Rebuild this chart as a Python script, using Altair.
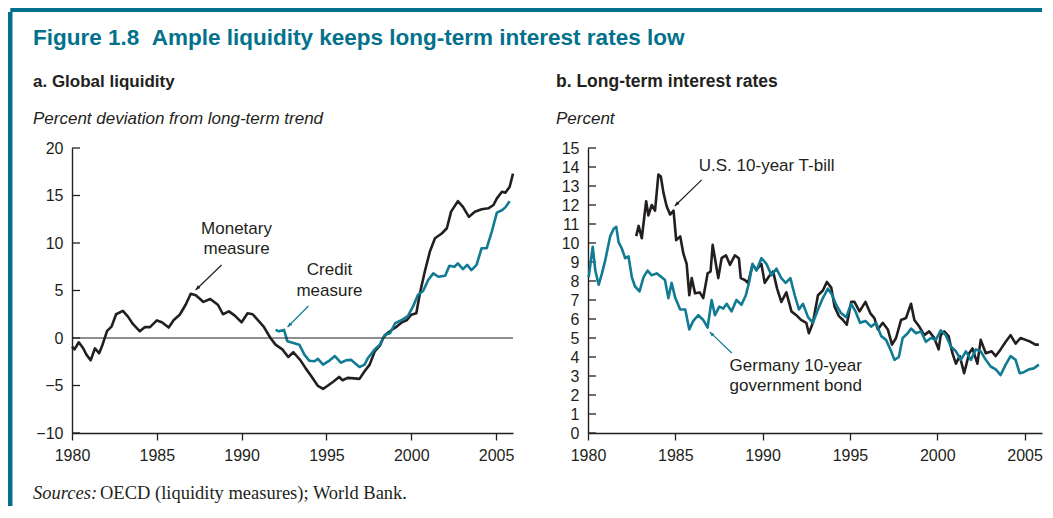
import altair as alt
import pandas as pd

# ---------------- data: panel a (global liquidity) ----------------
mon_year = [1980.0, 1980.15, 1980.4, 1980.65, 1980.85, 1981.1, 1981.35, 1981.6, 1981.8, 1982.07,
            1982.33, 1982.6, 1983.0, 1983.3, 1983.6, 1984.0, 1984.3, 1984.6, 1985.0, 1985.3,
            1985.7, 1986.0, 1986.35, 1986.7, 1987.0, 1987.3, 1987.75, 1988.15, 1988.6, 1988.9,
            1989.25, 1989.6, 1990.0, 1990.35, 1990.65, 1991.0, 1991.3, 1991.7, 1992.0, 1992.4,
            1992.75, 1993.05, 1993.45, 1993.8, 1994.1, 1994.5, 1994.8, 1995.05, 1995.4, 1995.75,
            1995.95, 1996.25, 1996.65, 1996.95, 1997.25, 1997.55, 1997.85, 1998.15, 1998.35, 1998.55,
            1998.85, 1999.15, 1999.45, 1999.75, 2000.0, 2000.3, 2000.5, 2000.8, 2001.1, 2001.4,
            2001.8, 2002.1, 2002.35, 2002.75, 2003.05, 2003.4, 2003.75, 2004.15, 2004.55, 2004.85,
            2005.05, 2005.35, 2005.55, 2005.8, 2006.0]
mon_val = [-0.9, -1.2, -0.45, -1.05, -1.75, -2.35, -1.1, -1.6, -0.7, 0.75,
           1.2, 2.5, 2.85, 2.25, 1.45, 0.7, 1.15, 1.15, 1.85, 1.65,
           1.1, 1.9, 2.45, 3.5, 4.65, 4.5, 3.8, 4.1, 3.5, 2.5,
           2.8, 2.35, 1.65, 2.6, 2.5, 1.8, 1.2, 0.0, -0.7, -1.2,
           -2.0, -1.5, -2.3, -3.25, -4.0, -5.05, -5.35, -5.05, -4.6, -4.1,
           -4.45, -4.2, -4.25, -4.3, -3.5, -2.8, -1.4, -0.8, 0.0, 0.45,
           0.85, 1.2, 1.65, 1.9, 2.45, 2.6, 4.6, 7.0, 9.1, 10.5,
           11.0, 11.55, 13.3, 14.4, 13.8, 12.75, 13.3, 13.55, 13.65, 14.0,
           14.7, 15.4, 15.3, 15.9, 17.3]

cred_year = [1992.0, 1992.2, 1992.5, 1992.7, 1993.0, 1993.4, 1993.7, 1994.0, 1994.3, 1994.5,
             1994.8, 1995.2, 1995.5, 1995.85, 1996.15, 1996.45, 1996.65, 1996.95, 1997.25, 1997.45,
             1997.85, 1998.15, 1998.45, 1998.75, 1999.05, 1999.45, 1999.8, 2000.1, 2000.4, 2000.7,
             2001.0, 2001.3, 2001.6, 2002.0, 2002.25, 2002.55, 2002.75, 2003.05, 2003.3, 2003.55,
             2003.85, 2004.15, 2004.45, 2004.75, 2005.05, 2005.35, 2005.55, 2005.8]
cred_val = [0.85, 0.7, 0.85, -0.35, -0.5, -0.7, -1.75, -2.4, -2.45, -2.2,
            -2.8, -2.35, -1.9, -2.6, -2.35, -2.3, -2.6, -3.05, -2.8, -2.1,
            -1.2, -0.7, 0.35, 0.5, 1.55, 1.9, 2.3, 3.3, 4.55, 4.95,
            6.1, 6.8, 6.45, 6.55, 7.6, 7.5, 7.85, 7.25, 7.7, 7.15,
            7.7, 9.45, 9.45, 11.2, 13.2, 13.45, 13.75, 14.4]

# ---------------- data: panel b (long-term interest rates) ----------------
us_year = [1982.76, 1982.9, 1983.08, 1983.33, 1983.46, 1983.65, 1983.84, 1984.03, 1984.17, 1984.32,
           1984.5, 1984.7, 1984.9, 1985.05, 1985.28, 1985.46, 1985.65, 1985.8, 1985.94, 1986.13,
           1986.4, 1986.6, 1986.85, 1987.02, 1987.14, 1987.27, 1987.46, 1987.65, 1987.9, 1988.13,
           1988.41, 1988.64, 1988.75, 1988.98, 1989.17, 1989.42, 1989.65, 1989.93, 1990.12, 1990.37,
           1990.6, 1990.83, 1991.07, 1991.36, 1991.65, 1991.93, 1992.2, 1992.5, 1992.65, 1992.88,
           1993.17, 1993.45, 1993.68, 1993.93, 1994.12, 1994.37, 1994.6, 1994.82, 1995.07, 1995.26,
           1995.55, 1995.89, 1996.17, 1996.4, 1996.6, 1996.88, 1997.17, 1997.41, 1997.64, 1997.93,
           1998.21, 1998.5, 1998.69, 1998.97, 1999.26, 1999.54, 1999.83, 2000.08, 2000.2, 2000.4,
           2000.65, 2000.87, 2001.07, 2001.29, 2001.54, 2001.83, 2002.02, 2002.3, 2002.49, 2002.78,
           2003.12, 2003.35, 2003.63, 2003.92, 2004.2, 2004.49, 2004.77, 2005.06, 2005.34, 2005.63,
           2005.82]
us_val = [10.36, 10.9, 10.25, 12.2, 11.45, 12.0, 11.7, 13.6, 13.5, 12.65,
          11.95, 11.5, 11.7, 10.15, 10.35, 9.45, 8.9, 7.25, 8.15, 7.35,
          7.4, 7.1, 8.4, 8.5, 9.9, 9.2, 8.15, 9.2, 9.35, 8.85,
          9.35, 9.2, 8.15, 8.05, 7.9, 8.85, 8.6, 8.9, 7.9, 8.25,
          8.5, 7.6, 6.9, 7.4, 6.4, 6.2, 5.95, 5.8, 5.25, 5.8,
          7.25, 7.5, 7.95, 7.65, 6.65, 6.15, 5.95, 5.7, 6.9, 6.9,
          6.4, 6.9, 6.3, 6.05, 5.45, 5.8, 5.45, 4.65, 5.0, 5.95,
          6.05, 6.8, 5.95, 5.6, 5.15, 5.35, 5.0, 4.4, 5.15, 5.35,
          5.1, 4.2, 3.65, 4.05, 3.15, 4.2, 4.45, 3.65, 4.9, 4.2,
          4.3, 4.05, 4.4, 4.8, 5.15, 4.7, 5.0, 4.9, 4.8, 4.65,
          4.65]

de_year = [1980.04, 1980.27, 1980.42, 1980.61, 1980.8, 1980.99, 1981.27, 1981.47, 1981.62, 1981.75,
           1981.94, 1982.13, 1982.32, 1982.51, 1982.7, 1982.95, 1983.18, 1983.41, 1983.65, 1983.94,
           1984.22, 1984.41, 1984.6, 1984.79, 1985.0, 1985.28, 1985.57, 1985.8, 1986.03, 1986.32,
           1986.6, 1986.85, 1987.08, 1987.27, 1987.52, 1987.75, 1987.94, 1988.22, 1988.5, 1988.79,
           1989.04, 1989.23, 1989.42, 1989.65, 1989.93, 1990.22, 1990.51, 1990.79, 1991.07, 1991.32,
           1991.59, 1991.84, 1992.08, 1992.31, 1992.6, 1992.88, 1993.17, 1993.45, 1993.74, 1993.99,
           1994.21, 1994.5, 1994.79, 1995.07, 1995.32, 1995.58, 1995.89, 1996.21, 1996.5, 1996.79,
           1997.07, 1997.36, 1997.55, 1997.8, 1998.02, 1998.31, 1998.5, 1998.78, 1999.07, 1999.35,
           1999.64, 1999.92, 2000.2, 2000.49, 2000.78, 2001.07, 2001.35, 2001.64, 2001.93, 2002.21,
           2002.49, 2002.78, 2003.06, 2003.35, 2003.63, 2003.92, 2004.2, 2004.49, 2004.72, 2004.96,
           2005.25, 2005.53, 2005.82]
de_val = [8.2, 9.8, 8.55, 7.8, 8.4, 9.1, 10.35, 10.75, 10.85, 10.05,
          9.7, 9.2, 9.3, 8.2, 7.7, 7.45, 8.2, 8.55, 8.3, 8.4,
          8.2, 8.05, 7.1, 7.9, 7.1, 6.5, 6.5, 5.45, 5.9, 6.2,
          5.95, 5.55, 7.0, 6.2, 6.65, 6.55, 6.8, 6.4, 7.0, 6.75,
          7.25, 7.95, 8.9, 8.55, 9.2, 8.9, 8.3, 8.65, 8.15, 7.9,
          8.15, 7.25, 6.5, 6.8, 6.1, 5.8, 6.5, 7.1, 7.6, 7.25,
          6.75, 6.3, 6.1, 6.8, 6.4, 5.8, 5.9, 5.6, 5.8, 5.1,
          4.9, 4.3, 3.85, 4.0, 5.0, 5.25, 5.5, 5.25, 5.35, 4.8,
          5.0, 4.9, 5.4, 5.15, 4.55, 4.3, 3.85, 4.3, 3.85, 4.4,
          4.3, 3.85, 3.5, 3.35, 3.05, 3.6, 4.05, 3.85, 3.15, 3.2,
          3.35, 3.4, 3.6]

# ---------------- axes / ticks ----------------
x_ticks = [1980, 1985, 1990, 1995, 2000, 2005]
ya_ticks = [-10, -5, 0, 5, 10, 15, 20]
yb_ticks = list(range(0, 16))

# ---------------- annotations ----------------
a_lab_x = [1989.7, 1989.7, 1995.18, 1995.18]
a_lab_y = [11.47, 9.37, 7.16, 4.95]
a_lab_t = ["Monetary", "measure", "Credit", "measure"]
a_arr = {"x": [1988.82, 1993.94], "y": [7.68, 3.37], "x2": [1987.29, 1992.71], "y2": [5.05, 1.16],
         "c": ["#231f20", "#107b93"], "ang": [225, 225]}

b_lab_x = [1990.23]
b_lab_y = [14.05]
b_lab_t = ["U.S. 10-year T-bill"]
b_lab2_x = [1988.11, 1988.11]
b_lab2_y = [3.53, 2.47]
b_lab2_t = ["Germany 10-year", "government bond"]
b_arr = {"x": [1986.51, 1988.23], "y": [13.32, 4.21], "x2": [1984.97, 1986.97], "y2": [11.95, 5.32],
         "c": ["#231f20", "#107b93"], "ang": [225, 315]}

BLACK = "#231f20"
TEAL = "#107b93"
FRAME = "#03718c"
SANS = "Liberation Sans"
SERIF = "Liberation Serif"
ARROW = "M0,0 L-0.4,1 L0.4,1 Z"
NB = "\u00a0"

one = pd.DataFrame({"d": [0]})


def xenc(field="year"):
    return alt.X(f"{field}:Q", scale=alt.Scale(domain=[1980, 2006], nice=False, zero=False),
                 axis=alt.Axis(values=x_ticks, format="d", tickSize=7, labelPadding=7,
                               title=None, labelFlush=False))


def panel(series, ydomain, yticks, labels, arrows, extra_text, width):
    ysc = alt.Scale(domain=ydomain, nice=False, zero=False)
    yax = alt.Axis(values=yticks, ticks=False, labelPadding=9, title=None, format="d",
                   labelOverlap=False, labelFlush=False, labelBound=False)
    layers = []
    # inward y ticks
    tdf = pd.DataFrame({"v": yticks})
    layers.append(alt.Chart(tdf).mark_rule(color=BLACK, strokeWidth=1.3).encode(
        y=alt.Y("v:Q", scale=ysc, axis=yax),
        x=alt.value(0), x2=alt.value(8)))
    for df, col in series:
        layers.append(alt.Chart(df).mark_line(color=col, strokeWidth=2.6, strokeJoin="round").encode(
            x=xenc(), y=alt.Y("value:Q", scale=ysc, axis=yax)))
    for ldf, align in labels:
        layers.append(alt.Chart(ldf).mark_text(align=align, baseline="middle", font=SANS,
                                               fontSize=17, color=BLACK).encode(
            x=alt.X("x:Q"), y=alt.Y("y:Q", axis=yax), text="t:N"))
    adf = pd.DataFrame(arrows)
    layers.append(alt.Chart(adf).mark_rule(strokeWidth=1.2).encode(
        x="x:Q", y=alt.Y("y:Q", axis=yax), x2="x2:Q", y2="y2:Q", color=alt.Color("c:N", scale=None)))
    layers.append(alt.Chart(adf).mark_point(shape=ARROW, filled=True, size=90, opacity=1).encode(
        x="x2:Q", y=alt.Y("y2:Q", axis=yax), angle=alt.Angle("ang:Q", scale=None),
        color=alt.Color("c:N", scale=None)))
    layers.extend(extra_text)
    return alt.layer(*layers).properties(width=width, height=285)


def txt(text, x, y, size, weight="normal", style="normal", color=BLACK, font=SANS):
    return alt.Chart(one).mark_text(text=text, align="left", baseline="alphabetic", font=font,
                                    fontSize=size, fontWeight=weight, fontStyle=style,
                                    color=color).encode(x=alt.value(x), y=alt.value(y))


mon = pd.DataFrame({"year": mon_year, "value": mon_val})
cred = pd.DataFrame({"year": cred_year, "value": cred_val})
us = pd.DataFrame({"year": us_year, "value": us_val})
de = pd.DataFrame({"year": de_year, "value": de_val})

zero_line = alt.Chart(pd.DataFrame({"z": [0]})).mark_rule(color=BLACK, strokeWidth=1.1).encode(
    y=alt.Y("z:Q"))

frame_a = [
    alt.Chart(one).mark_rule(color=FRAME, strokeWidth=4.5).encode(
        x=alt.value(-61.75), y=alt.value(-136), y2=alt.value(358)),
    alt.Chart(one).mark_rule(color=FRAME, strokeWidth=4).encode(
        x=alt.value(-61.75), x2=alt.value(970), y=alt.value(-138)),
    txt("Figure 1.8" + NB + NB + "Ample liquidity keeps long-term interest rates low",
        -39, -103, 22.5, "bold", color=FRAME),
    txt("a. Global liquidity", -39, -61, 17, "bold"),
    txt("Percent deviation from long-term trend", -39, -24, 17, style="italic"),
    txt("Sources:", -39, 351, 18.5, style="italic", font=SERIF),
    txt("OECD (liquidity measures); World Bank.", 28, 351, 18.5, font=SERIF),
    zero_line,
]

panel_a = panel(
    [(mon, BLACK), (cred, TEAL)], [-10, 20], ya_ticks,
    [(pd.DataFrame({"x": a_lab_x, "y": a_lab_y, "t": a_lab_t}), "center")],
    a_arr, frame_a, 441)

text_b = [
    txt("b. Long-term interest rates", -32, -61, 17.5, "bold"),
    txt("Percent", -32, -24, 17, style="italic"),
]

panel_b = panel(
    [(us, BLACK), (de, TEAL)], [0, 15], yb_ticks,
    [(pd.DataFrame({"x": b_lab_x, "y": b_lab_y, "t": b_lab_t}), "center"),
     (pd.DataFrame({"x": b_lab2_x, "y": b_lab2_y, "t": b_lab2_t}), "left")],
    b_arr, text_b, 454)

chart = alt.hconcat(panel_a, panel_b, spacing=75, bounds="flush").properties(
    padding=0, background="white"
).configure_view(stroke=None).configure_axis(
    labelFont=SANS, labelFontSize=16, labelColor=BLACK, domainColor=BLACK, domainWidth=1.4,
    tickColor=BLACK, tickWidth=1.3, grid=False, labelOverlap=False
)

chart.save("out.html", embed_options={"renderer": "svg", "actions": False})
